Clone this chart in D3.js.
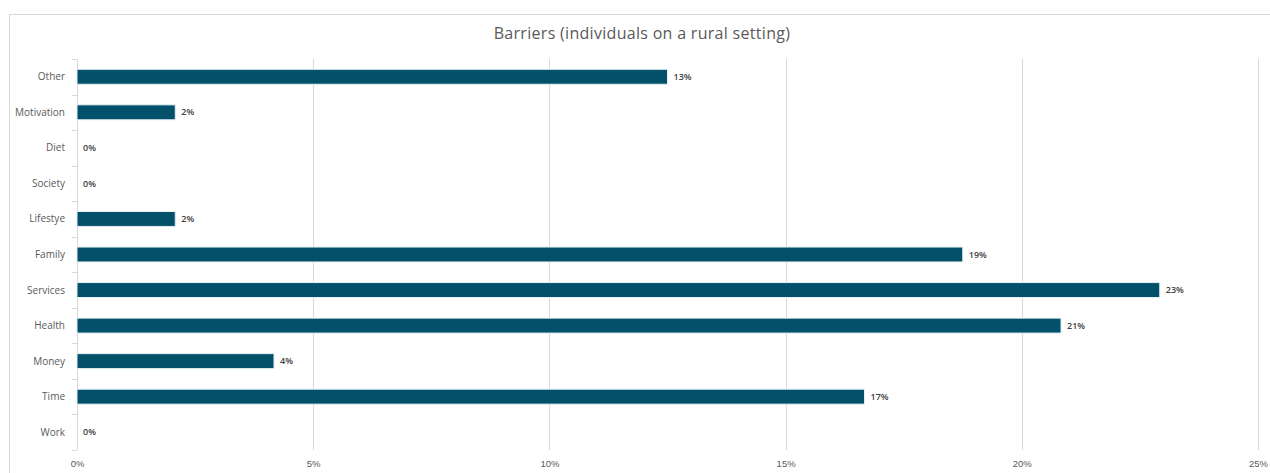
<!DOCTYPE html>
<html>
<head>
<meta charset="utf-8">
<script src="https://cdn.jsdelivr.net/npm/d3@7"></script>
<style>
  body { margin: 0; background: #fff; }
  svg { font-family: "Open Sans", "Noto Sans", sans-serif; }
</style>
</head>
<body>
<svg id="bar-chart" width="1270" height="473"></svg>
<script>
// Data (shares of responses, 48 in total)
let categories = ["Other", "Motivation", "Diet", "Society", "Lifestye", "Family", "Services", "Health", "Money", "Time", "Work"]
let shares = [0.125, 0.0208, 0, 0, 0.0208, 0.1875, 0.2292, 0.2083, 0.0417, 0.1667, 0]
let xTicks = [0, 0.05, 0.10, 0.15, 0.20, 0.25]
let chartTitle = "Barriers (individuals on a rural setting)"

let svg = d3.select("#bar-chart")
let width = 1270, height = 473
let margin = { top: 59, right: 12, bottom: 23, left: 77 }

let data = categories.map((c, i) => ({ category: c, value: shares[i] }))

// chart frame
svg.append("rect")
  .attr("x", 9.5)
  .attr("y", 14.5)
  .attr("width", 1275)
  .attr("height", 480)
  .style("fill", "#fff")
  .style("stroke", "#d9d9d9")
  .style("stroke-width", "1px")

let x = d3.scaleLinear()
  .domain([0, 0.25])
  .range([margin.left, width - margin.right])

let y = d3.scaleBand()
  .domain(categories)
  .range([margin.top, height - margin.bottom])
  .paddingInner(0.58)
  .paddingOuter(0.29)

// gridlines
svg.append("g")
  .selectAll("line")
  .data(xTicks.slice(1))
  .join("line")
  .attr("x1", d => Math.round(x(d)) + 0.5)
  .attr("x2", d => Math.round(x(d)) + 0.5)
  .attr("y1", margin.top)
  .attr("y2", height - margin.bottom)
  .style("stroke", "#d9d9d9")
  .style("stroke-width", "1px")

// x axis labels
let xAxis = d3.axisBottom(x)
  .tickValues(xTicks)
  .tickSize(0)
  .tickPadding(10)
  .tickFormat(d3.format(".0%"))

let xAxisG = svg.append("g")
  .attr("transform", `translate(0,${height - margin.bottom})`)
  .call(xAxis)
xAxisG.select(".domain").remove()
xAxisG.selectAll("text")
  .style("font-size", "9.5px")
  .style("fill", "#595959")

// y axis with small ticks at the band edges
let step = y.step()
let yAxisLine = svg.append("g")
yAxisLine.append("line")
  .attr("x1", margin.left + 0.5)
  .attr("x2", margin.left + 0.5)
  .attr("y1", margin.top)
  .attr("y2", height - margin.bottom)
  .style("stroke", "#d9d9d9")
yAxisLine.selectAll(".edge")
  .data(d3.range(categories.length + 1))
  .join("line")
  .attr("class", "edge")
  .attr("x1", margin.left - 5)
  .attr("x2", margin.left)
  .attr("y1", i => Math.round(margin.top + i * step) + 0.5)
  .attr("y2", i => Math.round(margin.top + i * step) + 0.5)
  .style("stroke", "#d9d9d9")

svg.append("g")
  .selectAll("text")
  .data(categories)
  .join("text")
  .attr("x", margin.left - 12)
  .attr("y", d => y(d) + y.bandwidth() / 2)
  .attr("dy", "0.35em")
  .attr("text-anchor", "end")
  .style("font-size", "10px")
  .style("fill", "#595959")
  .text(d => d)

// bars
svg.append("g")
  .selectAll("rect")
  .data(data.filter(d => d.value > 0))
  .join("rect")
  .attr("x", x(0))
  .attr("y", d => y(d.category))
  .attr("width", d => x(d.value) - x(0))
  .attr("height", y.bandwidth())
  .style("fill", "#02506a")
  .style("stroke", "#e4eef3")
  .style("stroke-width", "1px")

// value labels
svg.append("g")
  .selectAll("text")
  .data(data)
  .join("text")
  .attr("x", d => x(d.value) + 6)
  .attr("y", d => y(d.category) + y.bandwidth() / 2)
  .attr("dy", "0.35em")
  .style("font-size", "9px")
  .style("font-weight", "600")
  .style("fill", "#404040")
  .text(d => d3.format(".0%")(d.value))

// title
svg.append("text")
  .attr("x", 642)
  .attr("y", 39)
  .attr("text-anchor", "middle")
  .style("font-size", "16px")
  .style("letter-spacing", "0.3px")
  .style("fill", "#595959")
  .text(chartTitle)
</script>
</body>
</html>
